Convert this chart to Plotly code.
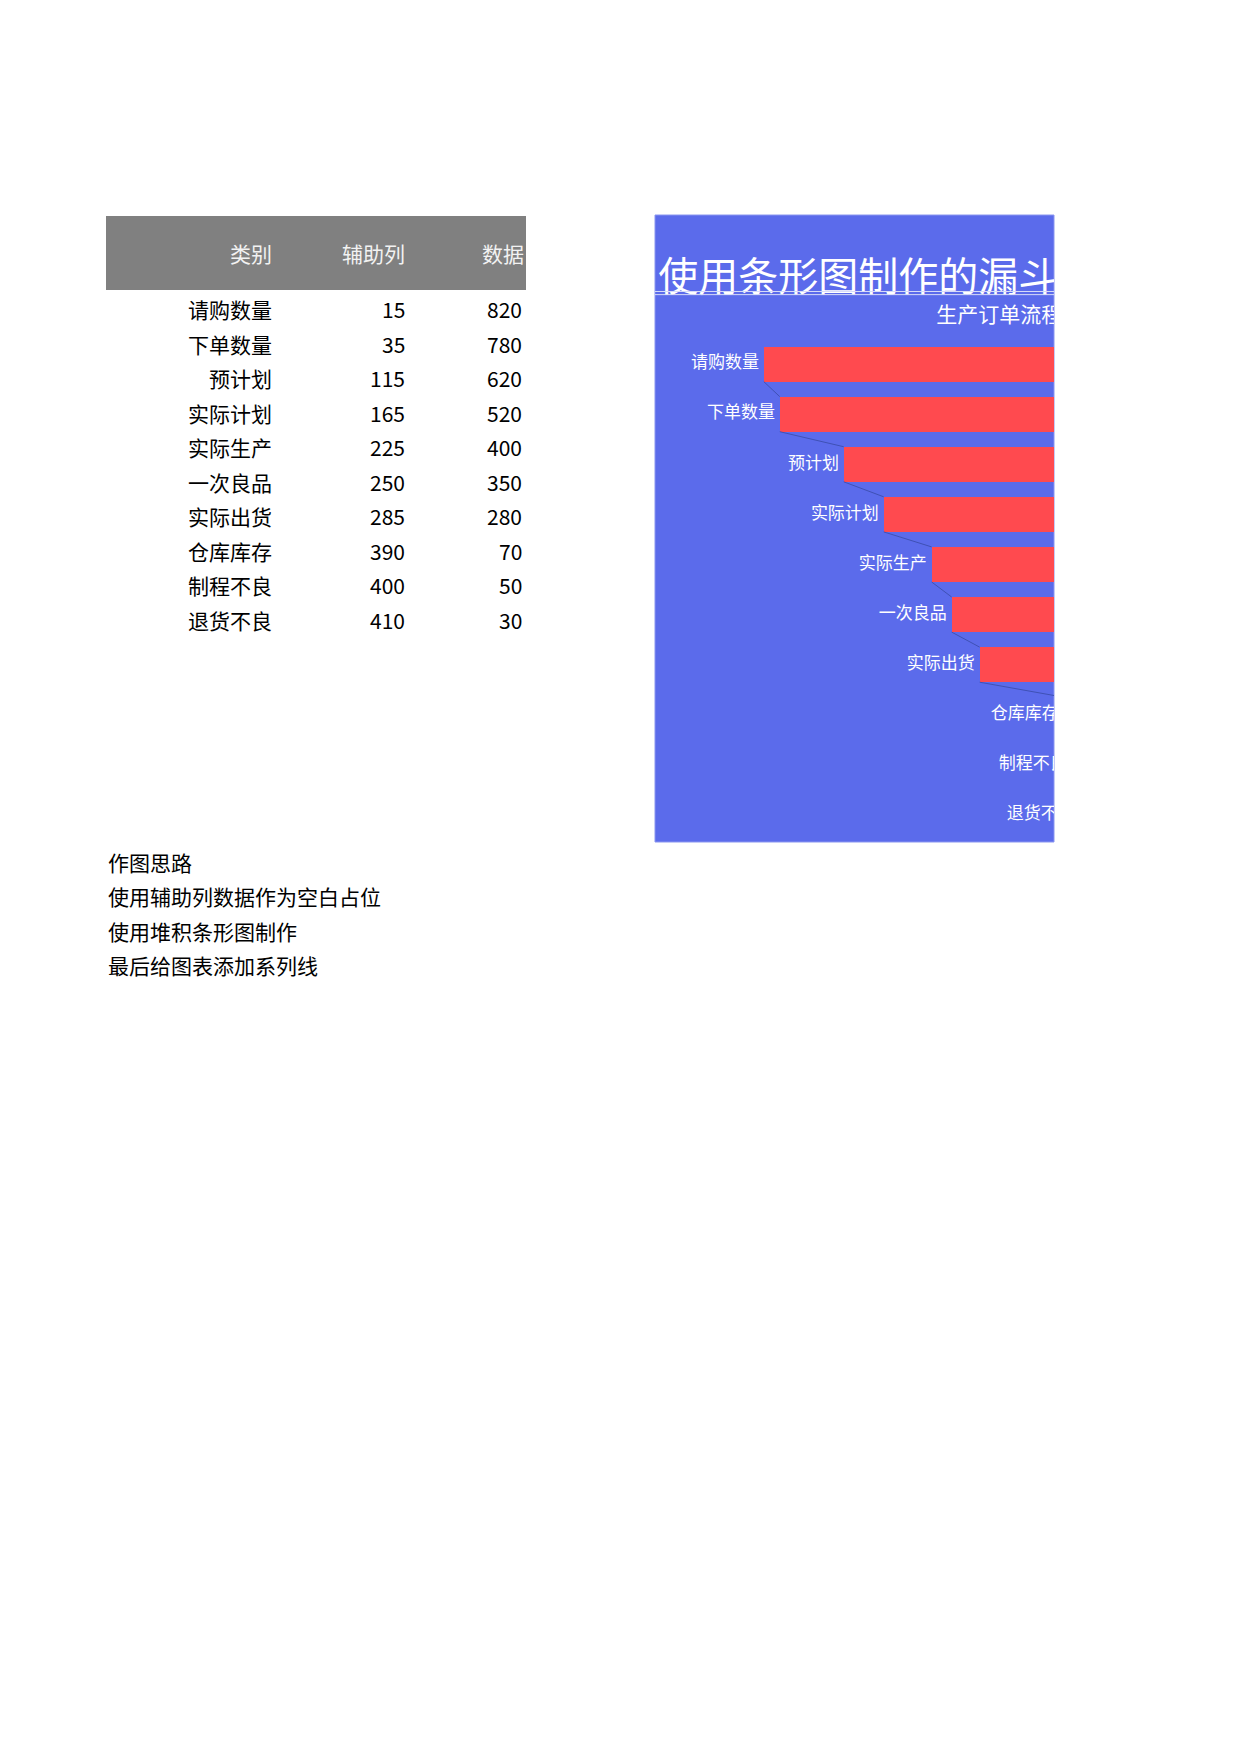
import plotly.graph_objects as go

categories = ["请购数量", "下单数量", "预计划", "实际计划", "实际生产", "一次良品", "实际出货", "仓库库存", "制程不良", "退货不良"]
helper = [15, 35, 115, 165, 225, 250, 285, 390, 400, 410]
values = [820, 780, 620, 520, 400, 350, 280, 70, 50, 30]
headers = ["类别", "辅助列", "数据"]
notes = ["作图思路", "使用辅助列数据作为空白占位", "使用堆积条形图制作", "最后给图表添加系列线"]
title_text = "使用条形图制作的漏斗图"
subtitle_text = "生产订单流程"

W, H = 1240, 1754
FONT = "Noto Sans CJK SC"
BG = "#5B6BEB"
RED = "#FF4A4F"
DX, DY = -8, -9  # global nudge


def px(x):
    return (x + DX) / W


def py(y):
    return 1 - (y + DY) / H


rows = list(range(len(categories)))
fig = go.Figure()

# invisible placeholder + visible data (stacked)
fig.add_trace(go.Bar(y=rows, x=helper, orientation="h", marker=dict(color="rgba(0,0,0,0)", line_width=0),
                     width=0.7, hoverinfo="skip"))
fig.add_trace(go.Bar(y=rows, x=values, orientation="h", marker=dict(color=RED, line_width=0), width=0.7))

# series lines
lx, ly = [], []
for i in range(len(rows) - 1):
    lx += [helper[i], helper[i + 1], None]
    ly += [rows[i] + 0.35, rows[i + 1] - 0.35, None]
fig.add_trace(go.Scatter(x=lx, y=ly, mode="lines", line=dict(color="#3F51B5", width=1),
                         hoverinfo="skip"))

# category labels left of bars
fig.add_trace(go.Scatter(x=[h - 6 for h in helper], y=rows, mode="text", text=categories,
                         textposition="middle left", cliponaxis=True,
                         textfont=dict(family=FONT, size=17, color="white")))

# title / subtitle in an overlay axis so they clip at the chart edge
fig.add_trace(go.Scatter(x=[0.008, 0.705], y=[0.894, 0.837], mode="text",
                         text=[title_text, subtitle_text], textposition="middle right",
                         cliponaxis=True, xaxis="x2", yaxis="y2",
                         textfont=dict(family=FONT, size=[40, 21], color="white")))
fig.add_trace(go.Scatter(x=[0, 1, None, 0, 1], y=[0.878, 0.878, None, 0.873, 0.873],
                         mode="lines", line=dict(color="#D8DCF8", width=1),
                         xaxis="x2", yaxis="y2", hoverinfo="skip"))

shapes = [
    dict(type="rect", xref="paper", yref="paper", x0=px(655), x1=px(1054), y0=py(843), y1=py(216),
         fillcolor=BG, line=dict(color="#8A96F0", width=1), layer="below"),
    dict(type="rect", xref="paper", yref="paper", x0=px(106), x1=px(526), y0=py(291), y1=py(217),
         fillcolor="#808080", line_width=0, layer="below"),
]

annotations = []
col_right = [274, 407, 526]
for j, h in enumerate(headers):
    annotations.append(dict(xref="paper", yref="paper", x=px(col_right[j]), y=py(254), text=h,
                            xanchor="right", yanchor="middle", showarrow=False,
                            font=dict(family=FONT, size=21, color="#F2F2F2")))
for i, c in enumerate(categories):
    y = py(310 + 34.5 * i)
    for j, t in enumerate([c, str(helper[i]), str(values[i])]):
        annotations.append(dict(xref="paper", yref="paper", x=px(col_right[j] - (2 if j == 2 else 0)), y=y,
                                text=t, xanchor="right", yanchor="middle", showarrow=False,
                                font=dict(family=FONT, size=21, color="black")))
for k, n in enumerate(notes):
    annotations.append(dict(xref="paper", yref="paper", x=px(106), y=py(863 + 34.5 * k), text=n,
                            xanchor="left", yanchor="middle", showarrow=False,
                            font=dict(family=FONT, size=21, color="black")))

x0 = px(655)
x1 = px(1054)
fig.update_layout(
    width=W, height=H, margin=dict(l=0, r=0, t=0, b=0),
    paper_bgcolor="white", plot_bgcolor="rgba(0,0,0,0)",
    barmode="stack", showlegend=False, shapes=shapes, annotations=annotations,
    xaxis=dict(domain=[x0, x1], range=[-121, 378], visible=False, fixedrange=True),
    yaxis=dict(domain=[py(841), py(340)], range=[9.5, -0.5], visible=False, fixedrange=True),
    xaxis2=dict(domain=[x0, x1], range=[0, 1], visible=False, anchor="y2"),
    yaxis2=dict(domain=[py(843), py(216)], range=[0, 1], visible=False, anchor="x2"),
)

fig.write_html("out.html")
